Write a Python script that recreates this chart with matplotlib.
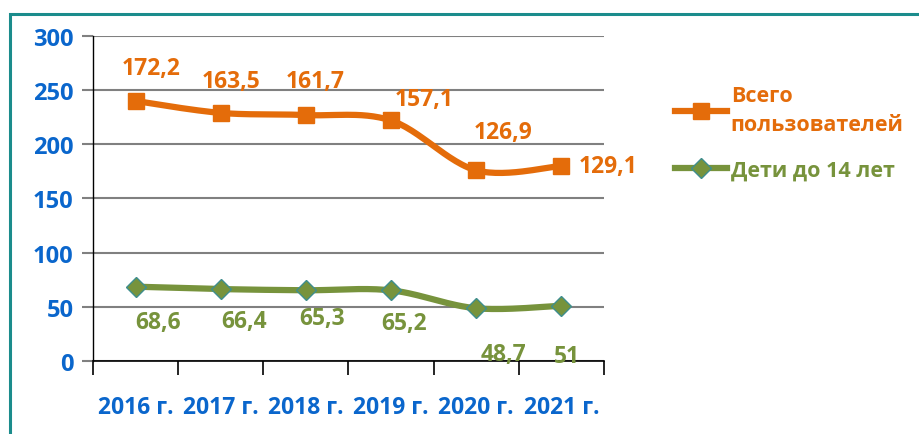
import numpy as np
import matplotlib.pyplot as plt
from matplotlib.patches import Rectangle

# -------------------------------
# Data
years = ['2016 г.', '2017 г.', '2018 г.', '2019 г.', '2020 г.', '2021 г.']
total_plot = [240, 229, 227, 222, 176, 180]          # where the orange markers sit
total_labels = ['172,2', '163,5', '161,7', '157,1', '126,9', '129,1']
kids_plot = [68.6, 66.4, 65.3, 65.2, 48.7, 51]
kids_labels = ['68,6', '66,4', '65,3', '65,2', '48,7', '51']
series_names = ['Всего\nпользователей', 'Дети до 14 лет']

# label offsets in pixels (dx, dy) as placed in the original
total_off = [(16, 33), (10, 32), (9, 34), (33, 21), (27, 38), (47, 0)]
kids_off = [(22, -35), (23, -32), (16, -28), (13, -33), (27, -46), (6, -50)]

orange = '#E46C0A'
green = '#77933C'
blue = '#0A66CC'
teal = '#1B8C8C'

plt.rcParams['font.family'] = ['Open Sans', 'DejaVu Sans']
plt.rcParams['font.weight'] = 'bold'


def smooth(y, n=30):
    # Catmull-Rom spline through the points (Excel "smoothed line")
    y = np.asarray(y, float)
    x = np.arange(len(y), dtype=float)
    P = np.column_stack([x, y])
    P = np.vstack([P[0], P, P[-1]])
    out = []
    for i in range(1, len(P) - 2):
        p0, p1, p2, p3 = P[i - 1], P[i], P[i + 1], P[i + 2]
        t = np.linspace(0, 1, n)[:, None]
        c = 0.5 * ((2 * p1) + (-p0 + p2) * t + (2 * p0 - 5 * p1 + 4 * p2 - p3) * t**2
                   + (-p0 + 3 * p1 - 3 * p2 + p3) * t**3)
        out.append(c)
    out = np.vstack(out)
    return out[:, 0], out[:, 1]


fig = plt.figure(figsize=(9.19, 4.35), dpi=100)
ax = fig.add_axes([0.1012, 0.1678, 0.5560, 0.7472])

x = np.arange(len(years))

sx, sy = smooth(total_plot)
ax.plot(sx, sy, color=orange, lw=4.5, solid_capstyle='round', zorder=3)
ax.plot(x, total_plot, ls='none', marker='s', ms=11, color=orange, zorder=4)

kx, ky = smooth(kids_plot)
ax.plot(kx, ky, color=green, lw=4.5, solid_capstyle='round', zorder=3)
ax.plot(x, kids_plot, ls='none', marker='D', ms=10, color=green,
        markeredgecolor='#3E8E8E', mew=1, zorder=4)

for i in range(len(years)):
    ax.annotate(total_labels[i], (x[i], total_plot[i]), xytext=total_off[i],
                textcoords='offset pixels', ha='center', va='center',
                color=orange, fontsize=16.5, fontweight='bold')
    ax.annotate(kids_labels[i], (x[i], kids_plot[i]), xytext=kids_off[i],
                textcoords='offset pixels', ha='center', va='center',
                color=green, fontsize=16.5, fontweight='bold')

# axes
ax.set_xlim(-0.5, len(years) - 0.5)
ax.set_ylim(0, 300)
ax.set_yticks(range(0, 301, 50))
ax.set_xticks(np.arange(len(years) + 1) - 0.5)
ax.set_xticklabels([])
ax.tick_params(axis='x', length=10, width=1.2, color='black', direction='out')
ax.tick_params(axis='y', length=8, width=1.5, color='#808080', labelsize=17,
               labelcolor=blue, pad=6)
for lab in ax.get_yticklabels():
    lab.set_fontweight('bold')
ax.yaxis.grid(True, color='#808080', lw=1.5)
ax.set_axisbelow(True)
for s in ['top', 'right']:
    ax.spines[s].set_visible(False)
ax.spines['left'].set_color('black')
ax.spines['left'].set_linewidth(1)
ax.spines['bottom'].set_color('black')
ax.spines['bottom'].set_linewidth(1.2)
ax.spines['bottom'].set_zorder(2)

for i, yr in enumerate(years):
    ax.text(x[i], -0.14, yr, transform=ax.get_xaxis_transform(), ha='center',
            va='center', color=blue, fontsize=16.5, fontweight='bold')

# legend
h1, = ax.plot([], [], color=orange, lw=4.5, marker='s', ms=11)
h2, = ax.plot([], [], color=green, lw=4.5, marker='D', ms=10,
              markeredgecolor='#3E8E8E', mew=1)
leg = fig.legend([h1, h2], series_names, loc='upper left',
                 bbox_to_anchor=(0.725, 0.822), frameon=False, fontsize=15.5,
                 handlelength=2.4, handletextpad=0.2, labelspacing=1.15,
                 borderaxespad=0)
leg.get_texts()[0].set_color(orange)
leg.get_texts()[1].set_color(green)
for t in leg.get_texts():
    t.set_fontweight('bold')
    t.set_linespacing(1.5)

# frame around the picture (cut off at right and bottom)
fig.patches.append(Rectangle((10 / 919, -0.2), 1.5, 1.2 - 15 / 435,
                             transform=fig.transFigure, fill=False,
                             edgecolor=teal, lw=2.2))

fig.savefig('out.png', dpi=100)
